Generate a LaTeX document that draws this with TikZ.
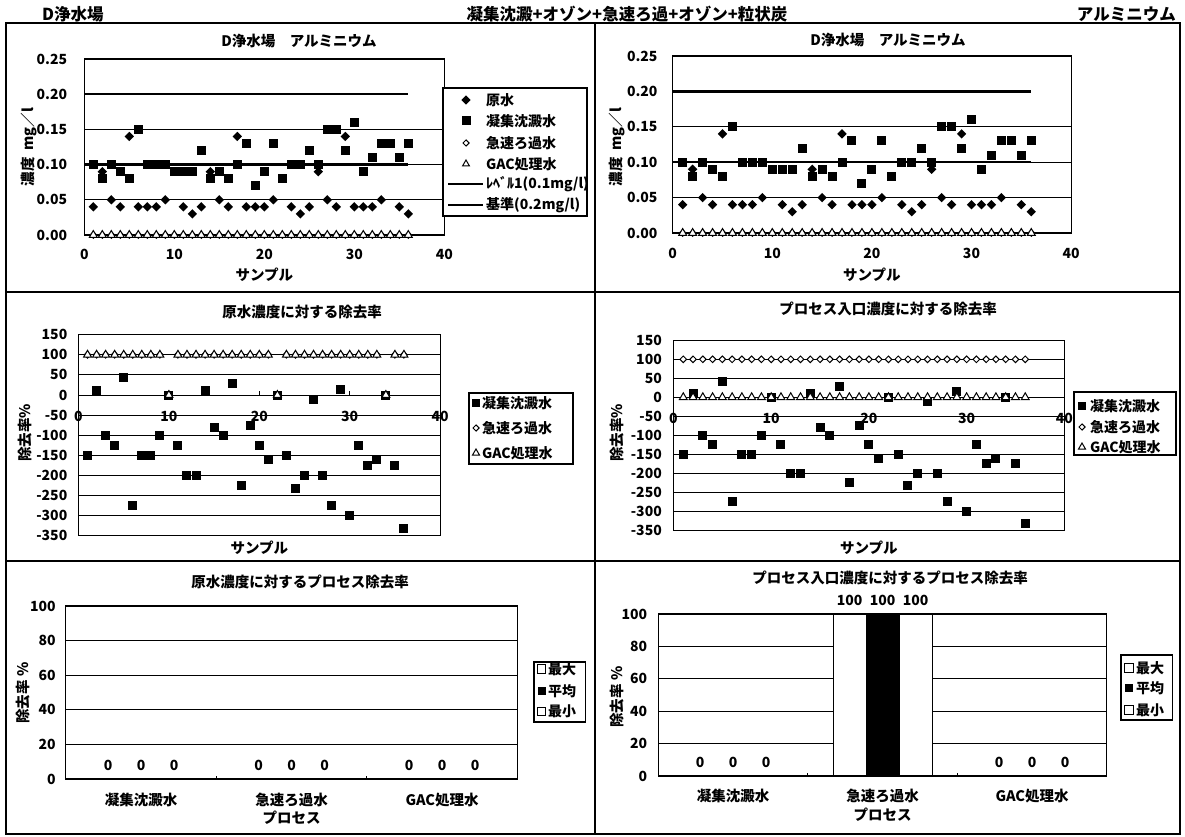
\documentclass[tikz,border=0pt]{standalone}
\usepackage{fontspec}
\setmainfont{Noto Sans CJK JP}
\usetikzlibrary{shapes.geometric}

\newcommand{\rawpts}{1/0.04,2/0.09,3/0.05,4/0.04,5/0.14,6/0.04,7/0.04,8/0.04,9/0.05,11/0.04,12/0.03,13/0.04,14/0.09,15/0.05,16/0.04,17/0.14,18/0.04,19/0.04,20/0.04,21/0.05,23/0.04,24/0.03,25/0.04,26/0.09,27/0.05,28/0.04,29/0.14,30/0.04,31/0.04,32/0.04,33/0.05,35/0.04,36/0.03}
\newcommand{\coagpts}{1/0.10,2/0.08,3/0.10,4/0.09,5/0.08,6/0.15,7/0.10,8/0.10,9/0.10,10/0.09,11/0.09,12/0.09,13/0.12,14/0.08,15/0.09,16/0.08,17/0.10,18/0.13,19/0.07,20/0.09,21/0.13,22/0.08,23/0.10,24/0.10,25/0.12,26/0.10,27/0.15,28/0.15,29/0.12,30/0.16,31/0.09,32/0.11,33/0.13,34/0.13,35/0.11,36/0.13}
\newcommand{\rempts}{1/-150,2/11.1,3/-100,4/-125,5/42.9,6/-275,7/-150,8/-150,9/-100,11/-125,12/-200,13/-200,14/11.1,15/-80,16/-100,17/28.6,18/-225,19/-75,20/-125,21/-160,23/-150,24/-233.3,25/-200,26/-11.1,27/-200,28/-275,29/14.3,30/-300,31/-125,32/-175,33/-160,35/-175,36/-333.3}

\begin{document}
\begin{tikzpicture}[x=1pt, y=-1pt,
    rawmark/.style={
        diamond,
        fill=black,
        inner sep=0pt,
        minimum size=9.5pt},
    coagmark/.style={
        rectangle,
        fill=black,
        inner sep=0pt,
        minimum size=9pt},
    rapidmark/.style={
        diamond,
        draw=black,
        fill=white,
        line width=1pt,
        inner sep=0pt,
        minimum size=7pt},
    gacmark/.style={
        regular polygon,
        regular polygon sides=3,
        draw=black,
        fill=white,
        line width=1pt,
        inner sep=0pt,
        minimum size=9pt},
    legsquare/.style={
        rectangle,
        draw=black,
        fill=white,
        line width=1pt,
        inner sep=0pt,
        minimum size=8.5pt},
    gridline/.style={line width=1pt},
    seriesline/.style={line width=2.2pt},
    plotframe/.style={line width=1.1pt},
    panelline/.style={line width=1.5pt},
    legendbox/.style={draw=black, line width=1.1pt, fill=white},
    headtext/.style={font=\fontsize{16.5}{18}\selectfont\bfseries, inner sep=0pt},
    bigtext/.style={font=\fontsize{14.5}{16}\selectfont\bfseries, inner sep=0pt},
    ticktext/.style={font=\fontsize{14}{16}\selectfont\bfseries, inner sep=0pt},
    legtext/.style={font=\fontsize{14}{16}\selectfont\bfseries, inner sep=0pt, anchor=west}
]
\useasboundingbox (0,0) rectangle (1185,837);
\fill[white] (0,0) rectangle (1185,837);

% header
\node[headtext, anchor=west] (plant) at (42,14.5) {D浄水場};
\node[headtext] (process) at (627,14.5) {凝集沈澱+オゾン+急速ろ過+オゾン+粒状炭};
\node[headtext, anchor=east] (item) at (1176,14.5) {アルミニウム};

% panels
\draw[panelline] (6,23) rectangle (1180,834);
\draw[panelline] (595,23) -- (595,834);
\draw[panelline] (6,292) -- (1180,292);
\draw[panelline] (6,561) -- (1180,561);

%%%%% top left
\node[bigtext] (t1) at (299,41) {D浄水場　アルミニウム};
\node[bigtext, rotate=90] (y1) at (29,147) {濃度\ \ mg／l};
\begin{scope}[shift={(84.3,235)}, x=9pt, y=704pt]
    \foreach \g in {0.05,0.10,0.15}{
        \draw[gridline] (0,\g) -- (40,\g);
    }
    \draw[seriesline] (0,0.1) -- (36,0.1);
    \draw[seriesline] (0,0.2) -- (36,0.2);
    \draw[plotframe] (0,0) rectangle (40,0.25);
    \foreach \v in {0.00,0.05,0.10,0.15,0.20,0.25}{
        \node[ticktext, anchor=east, xshift=-17pt] at (0,\v) {\v};
    }
    \foreach \x in {0,10,20,30,40}{
        \node[ticktext, yshift=-19pt] at (\x,0) {\x};
    }
    \node[bigtext, yshift=-40pt] (s1) at (20,0) {サンプル};
    \foreach \i/\v in \rawpts{ \node[rawmark] at (\i,\v) {}; }
    \foreach \i/\v in \coagpts{ \node[coagmark] at (\i,\v) {}; }
    \foreach \i in {1,...,36}{ \node[rapidmark] at (\i,0) {}; }
    \foreach \i in {1,...,36}{ \node[gacmark] at (\i,0) {}; }
\end{scope}
\draw[legendbox] (443,88) rectangle (587,216);
\node[rawmark] (l1a) at (466,100) {};
\node[coagmark] (l1b) at (466,121) {};
\node[rapidmark, minimum size=6.5pt] (l1c) at (466,143) {};
\node[gacmark, minimum size=8pt] (l1d) at (466,164) {};
\coordinate (l1e) at (448,184);
\coordinate (l1f) at (448,205);
\draw[line width=1.6pt] (l1e) -- +(35,0);
\draw[line width=1.6pt] (l1f) -- +(35,0);
\node[legtext] at (486,100) {原水};
\node[legtext] at (486,121) {凝集沈澱水};
\node[legtext] at (486,143) {急速ろ過水};
\node[legtext] at (486,164) {GAC処理水};
\node[legtext] at (486,184) {ﾚﾍﾞﾙ1(0.1mg/l)};
\node[legtext] at (486,205) {基準(0.2mg/l)};

%%%%% top right
\node[bigtext] (t2) at (888,40) {D浄水場　アルミニウム};
\node[bigtext, rotate=90] (y2) at (616.6,147) {濃度\ \ mg／l};
\begin{scope}[shift={(672.7,233)}, x=9.96pt, y=708pt]
    \foreach \g in {0.05,0.10,0.15}{
        \draw[gridline] (0,\g) -- (40,\g);
    }
    \draw[seriesline] (0,0.1) -- (36,0.1);
    \draw[seriesline] (0,0.2) -- (36,0.2);
    \draw[plotframe] (0,0) rectangle (40,0.25);
    \foreach \v in {0.00,0.05,0.10,0.15,0.20,0.25}{
        \node[ticktext, anchor=east, xshift=-15pt] at (0,\v) {\v};
    }
    \foreach \x in {0,10,20,30,40}{
        \node[ticktext, yshift=-20pt] at (\x,0) {\x};
    }
    \node[bigtext, yshift=-42pt] (s2) at (20,0) {サンプル};
    \foreach \i/\v in \rawpts{ \node[rawmark] at (\i,\v) {}; }
    \foreach \i/\v in \coagpts{ \node[coagmark] at (\i,\v) {}; }
    \foreach \i in {1,...,36}{ \node[rapidmark] at (\i,0) {}; }
    \foreach \i in {1,...,36}{ \node[gacmark] at (\i,0) {}; }
\end{scope}

%%%%% middle left
\node[bigtext] (t3) at (302,312) {原水濃度に対する除去率};
\node[bigtext, rotate=90] (y3) at (25,433) {除去率\%};
\begin{scope}[shift={(78.5,395)}, x=9.04pt, y=0.402pt]
    \foreach \g in {100,50,...,-300}{
        \draw[gridline] (0,\g) -- (40,\g);
    }
    \draw[plotframe] (0,-350) rectangle (40,150);
    \foreach \x in {10,20,30}{ \draw[gridline] (\x,0) -- +(0,4pt); }
    \foreach \g in {150,100,...,-350}{
        \node[ticktext, anchor=east, xshift=-11pt] at (0,\g) {\g};
    }
    \foreach \x in {0,10,20,30,40}{
        \node[ticktext, yshift=-21pt] at (\x,0) {\x};
    }
    \node[bigtext, yshift=-12pt] (s3) at (20,-350) {サンプル};
    \foreach \i/\v in \rempts{ \node[coagmark] at (\i,\v) {}; }
    \foreach \i in {10,22,34}{ \node[coagmark] at (\i,0) {}; }
    \foreach \i/\v in \rawpts{ \node[rapidmark] at (\i,100) {}; }
    \foreach \i in {10,22,34}{ \node[rapidmark] at (\i,0) {}; }
    \foreach \i/\v in \rawpts{ \node[gacmark] at (\i,100) {}; }
    \foreach \i in {10,22,34}{ \node[gacmark] at (\i,0) {}; }
\end{scope}
\draw[legendbox] (469,393) rectangle (573,464);
\node[coagmark, minimum size=8pt] (l3a) at (476,403) {};
\node[rapidmark, minimum size=6.5pt] (l3b) at (476,428) {};
\node[gacmark, minimum size=8pt] (l3c) at (476,453) {};
\node[legtext] at (482,403) {凝集沈澱水};
\node[legtext] at (482,428) {急速ろ過水};
\node[legtext] at (482,453) {GAC処理水};

%%%%% middle right
\node[bigtext] (t4) at (888,309) {プロセス入口濃度に対する除去率};
\node[bigtext, rotate=90] (y4) at (616.6,433) {除去率\%};
\begin{scope}[shift={(673.5,397.3)}, x=9.77pt, y=0.38pt]
    \foreach \g in {100,50,...,-300}{
        \draw[gridline] (0,\g) -- (40,\g);
    }
    \draw[plotframe] (0,-350) rectangle (40,150);
    \foreach \x in {10,20,30}{ \draw[gridline] (\x,0) -- +(0,4pt); }
    \foreach \g in {150,100,...,-350}{
        \node[ticktext, anchor=east, xshift=-11.5pt] at (0,\g) {\g};
    }
    \foreach \x in {0,10,20,30,40}{
        \node[ticktext, yshift=-21pt] at (\x,0) {\x};
    }
    \node[bigtext, yshift=-17pt] (s4) at (20,-350) {サンプル};
    \foreach \i/\v in \rempts{ \node[coagmark] at (\i,\v) {}; }
    \foreach \i in {10,22,34}{ \node[coagmark] at (\i,0) {}; }
    \foreach \i in {1,...,36}{ \node[rapidmark] at (\i,100) {}; }
    \foreach \i in {1,...,36}{ \node[gacmark] at (\i,0) {}; }
\end{scope}
\draw[legendbox] (1074,392) rectangle (1176,455);
\node[coagmark, minimum size=8pt] (l4a) at (1082,406) {};
\node[rapidmark, minimum size=6.5pt] (l4b) at (1082,427) {};
\node[gacmark, minimum size=8pt] (l4c) at (1082,447) {};
\node[legtext] at (1090,406) {凝集沈澱水};
\node[legtext] at (1090,427) {急速ろ過水};
\node[legtext] at (1090,447) {GAC処理水};

%%%%% bottom left
\node[bigtext] (t5) at (300,582) {原水濃度に対するプロセス除去率};
\node[bigtext, rotate=90] (y5) at (23,693) {除去率\ \%};
\begin{scope}[shift={(65.8,779)}, x=1pt, y=1.73pt]
    \foreach \g in {20,40,60,80}{
        \draw[gridline] (0,\g) -- (451.6,\g);
    }
    \draw[plotframe] (0,0) rectangle (451.6,100);
    \foreach \x in {150.5,301}{ \draw[gridline] (\x,0) -- +(0,3pt); }
    \foreach \g in {0,20,...,100}{
        \node[ticktext, anchor=east, xshift=-10pt] at (0,\g) {\g};
    }
    \foreach \c in {0,1,2}{
        \foreach \d in {-33,0,33}{
            \node[ticktext, yshift=14pt] at (75.25+150.5*\c+\d,0) {0};
        }
    }
    \node[bigtext, yshift=-21pt] (c5a) at (75.25,0) {凝集沈澱水};
    \node[bigtext, yshift=-21pt] (c5b) at (225.75,0) {急速ろ過水};
    \node[bigtext, yshift=-21pt] (c5c) at (376.25,0) {GAC処理水};
    \node[bigtext, yshift=-39pt] (p5) at (225.75,0) {プロセス};
\end{scope}
\draw[legendbox] (534,662) rectangle (585.5,722);
\node[legsquare] (l5a) at (541.5,669) {};
\node[coagmark, minimum size=8pt] (l5b) at (541.5,691) {};
\node[legsquare] (l5c) at (541.5,711.5) {};
\node[legtext] at (548,669) {最大};
\node[legtext] at (548,691) {平均};
\node[legtext] at (548,711.5) {最小};

%%%%% bottom right
\node[bigtext] (t6) at (890,578) {プロセス入口濃度に対するプロセス除去率};
\node[bigtext, rotate=90] (y6) at (616.6,697) {除去率\ \%};
\begin{scope}[shift={(658.3,776)}, x=1pt, y=1.62pt]
    \foreach \g in {20,40,60,80}{
        \draw[gridline] (0,\g) -- (448.6,\g);
    }
    \draw[line width=0.8pt, fill=white] (174.75,0) rectangle (207.75,100);
    \draw[line width=0.8pt, fill=black] (207.75,0) rectangle (240.75,100);
    \draw[line width=0.8pt, fill=white] (240.75,0) rectangle (273.75,100);
    \draw[plotframe] (0,0) rectangle (448.6,100);
    \foreach \x in {149.5,299}{ \draw[gridline] (\x,0) -- +(0,3pt); }
    \foreach \g in {0,20,...,100}{
        \node[ticktext, anchor=east, xshift=-11pt] at (0,\g) {\g};
    }
    \foreach \d in {-33,0,33}{
        \node[ticktext, yshift=14pt] at (74.75+\d,0) {0};
        \node[ticktext, yshift=14pt] at (373.75+\d,0) {0};
        \node[ticktext, yshift=14pt] at (224.25+\d,100) {100};
    }
    \node[bigtext, yshift=-20pt] (c6a) at (74.75,0) {凝集沈澱水};
    \node[bigtext, yshift=-20pt] (c6b) at (224.25,0) {急速ろ過水};
    \node[bigtext, yshift=-20pt] (c6c) at (373.75,0) {GAC処理水};
    \node[bigtext, yshift=-39pt] (p6) at (224.25,0) {プロセス};
\end{scope}
\draw[legendbox] (1121,655) rectangle (1172.5,720);
\node[legsquare] (l6a) at (1129,668) {};
\node[coagmark, minimum size=8pt] (l6b) at (1129,688) {};
\node[legsquare] (l6c) at (1129,710) {};
\node[legtext] at (1136,668) {最大};
\node[legtext] at (1136,688) {平均};
\node[legtext] at (1136,710) {最小};
\end{tikzpicture}
\end{document}
